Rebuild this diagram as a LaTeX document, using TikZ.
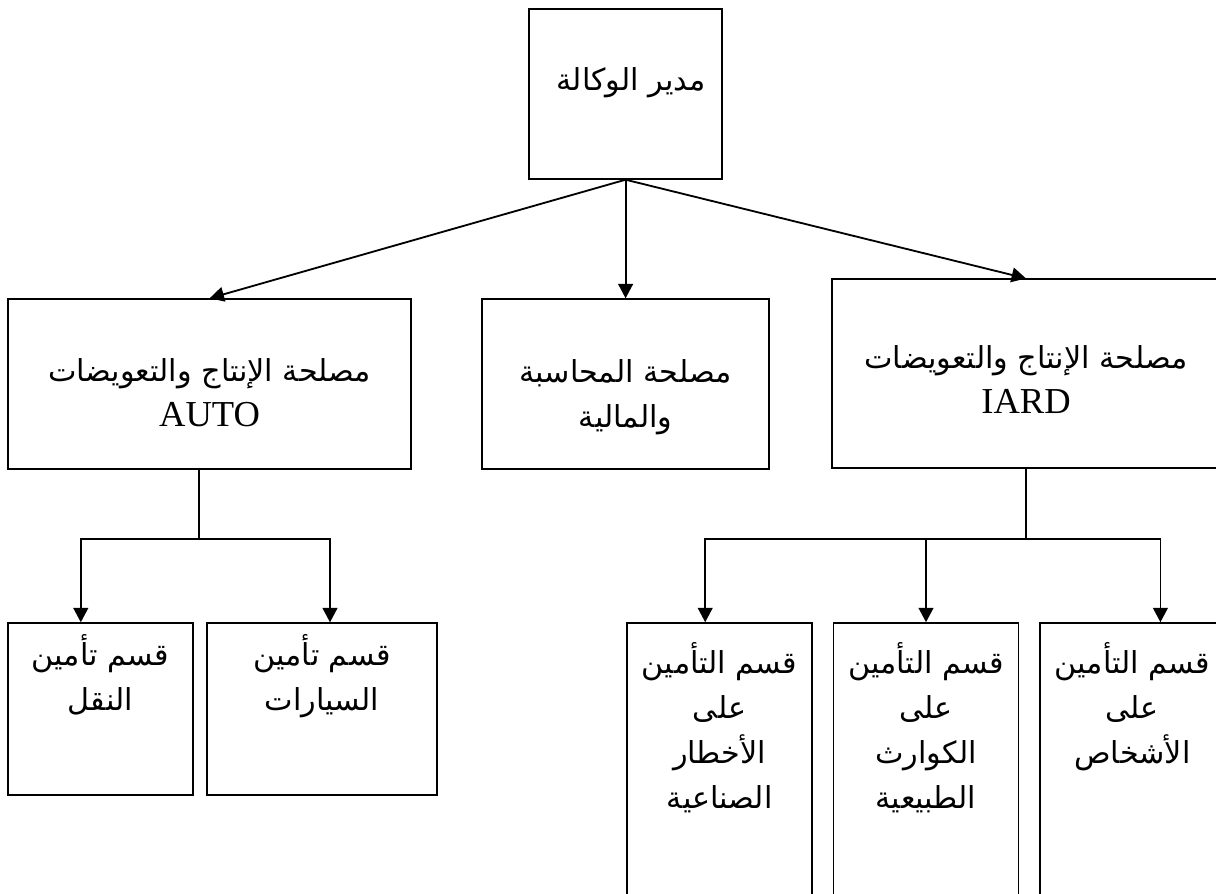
\documentclass[tikz,border=0pt]{standalone}
\usepackage{fontspec}
\setmainfont{Liberation Serif}
\newfontfamily\arabicfont[Script=Arabic]{DejaVu Sans}
\newfontfamily\latinfont{Liberation Serif}
\TeXXeTstate=1
\usetikzlibrary{arrows.meta,positioning,calc}
\tikzset{
  >={Triangle[length=3.6mm,width=3.7mm]},
  box/.style={draw=black,line width=1pt,inner sep=0pt,minimum width=#1},
  box/.default=4.625cm,
  txt/.style={font=\arabicfont\fontsize{21.5}{32}\selectfont,align=center,inner sep=0pt},
  conn/.style={draw=black,line width=1.3pt},
}
\newcommand{\ar}[1]{\beginR #1\endR}
\newcommand{\lat}[1]{{\latinfont\fontsize{26}{32}\selectfont #1}}

\begin{document}
\begin{tikzpicture}
  \useasboundingbox (0,0) rectangle (30.4,-22.35);
  \clip (0,0) rectangle (30.4,-22.35);
  % boxes
  \node[box=4.825cm,minimum height=4.25cm] (top) at (15.64,-2.35) {};
  \node[box=10.075cm,minimum height=4.25cm] (auto) at (5.24,-9.6) {};
  \node[box=7.175cm,minimum height=4.25cm] (acc) at (15.64,-9.6) {};
  \node[box=9.7cm,minimum height=4.725cm] (iard) at (25.65,-9.34) {};
  \node[box,minimum height=4.3cm] (transport) at (2.51,-17.725) {};
  \node[box=5.75cm,minimum height=4.3cm] (cars) at (8.05,-17.725) {};
  \node[box,minimum height=7.675cm] (ind) at (17.99,-19.41) {};
  \node[box,minimum height=7.675cm,right=0.5cm of ind] (nat) {};
  \node[box,minimum height=7.675cm,right=0.5cm of nat] (pers) {};
  % texts
  \node[txt] (top-t) at ([xshift=0.14cm,yshift=-1.85cm]top.north) {\ar{مدير الوكالة}};
  \node[txt] (auto-t) at ([yshift=-0.22cm]auto.center) {\ar{مصلحة الإنتاج والتعويضات}\\\lat{AUTO}};
  \node[txt] (acc-t) at ([yshift=-0.33cm]acc.center) {\ar{مصلحة المحاسبة}\\\ar{والمالية}};
  \node[txt] (iard-t) at ([yshift=-0.14cm]iard.center) {\ar{مصلحة الإنتاج والتعويضات}\\\lat{IARD}};
  \node[txt,anchor=north] (transport-t) at ([yshift=-0.3cm]transport.north) {\ar{قسم تأمين}\\\ar{النقل}};
  \node[txt,anchor=north] (cars-t) at ([yshift=-0.3cm]cars.north) {\ar{قسم تأمين}\\\ar{السيارات}};
  \node[txt,anchor=north] (ind-t) at ([yshift=-0.5cm]ind.north) {\ar{قسم التأمين}\\\ar{على}\\\ar{الأخطار}\\\ar{الصناعية}};
  \node[txt,anchor=north] (nat-t) at ([yshift=-0.5cm]nat.north) {\ar{قسم التأمين}\\\ar{على}\\\ar{الكوارث}\\\ar{الطبيعية}};
  \node[txt,anchor=north] (pers-t) at ([yshift=-0.5cm]pers.north) {\ar{قسم التأمين}\\\ar{على}\\\ar{الأشخاص}};
  % connectors
  \draw[conn,->] (top.south) -- (auto.north);
  \draw[conn,->] (top.south) -- (acc.north);
  \draw[conn,->] (top.south) -- (iard.north);
  \coordinate (aj) at ([xshift=-0.26cm,yshift=-1.73cm]auto.south);
  \draw[conn] ([xshift=-0.26cm]auto.south) -- (aj);
  \draw[conn,->] (aj) -| ([xshift=-0.49cm]transport.north);
  \draw[conn,->] (aj) -| ([xshift=0.2cm]cars.north);
  \coordinate (ij) at ([yshift=-1.75cm]iard.south);
  \draw[conn] (iard.south) -- (ij);
  \draw[conn,->] (ij) -| ([xshift=-0.36cm]ind.north);
  \draw[conn,->] (ij) -| (nat.north);
  \draw[conn,->] (ij) -| ([xshift=0.7cm]pers.north);
\end{tikzpicture}
\end{document}
